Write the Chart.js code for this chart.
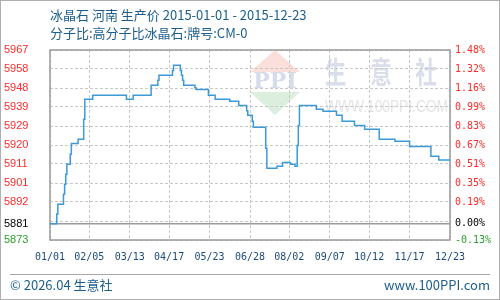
<!DOCTYPE html>
<html lang="zh">
<head>
    <meta charset="UTF-8">
    <title>冰晶石 河南 生产价</title>
    <script src="https://cdn.jsdelivr.net/npm/chart.js"></script>
    <style>
        body {
            margin: 0;
            background: #fff;
        }
        #wrap {
            position: relative;
            width: 500px;
            height: 300px;
            overflow: hidden;
        }
        #frame {
            position: absolute;
            left: 0; top: 0;
            width: 498px; height: 298px;
            border: 1px solid #b0b0b0;
            pointer-events: none;
        }
        .txt {
            position: absolute;
            font-family: "Noto Sans CJK SC", "Noto Sans", sans-serif;
            font-size: 13px;
            color: #1b5e8e;
            white-space: nowrap;
            line-height: 16px;
        }
        #footLine {
            position: absolute;
            left: 10px; top: 274px;
            width: 480px; height: 0;
            border-top: 1px solid #a8a8a8;
        }
    </style>
</head>
<body>
<div id="wrap">
    <canvas id="priceChart" width="500" height="300"></canvas>
    <div class="txt" style="left:50px; top:7px;">冰晶石 河南 生产价 2015-01-01 - 2015-12-23</div>
    <div class="txt" style="left:50px; top:25px;">分子比:高分子比冰晶石:牌号:CM-0</div>
    <div id="footLine"></div>
    <div class="txt" style="left:10px; top:277px;">© 2026.04 生意社</div>
    <div class="txt" style="right:10px; top:277px;">www.100PPI.com</div>
    <div id="frame"></div>
</div>

<script>
    // price changes (date the new price starts, price)
    const changeDates = ['01-01', '01-07', '01-08', '01-13', '01-14', '01-15', '01-16', '01-19', '01-20', '01-26',
        '01-31', '02-01', '02-08', '03-10', '03-16', '04-01', '04-07', '04-08', '04-20', '04-21',
        '04-27', '04-28', '04-29', '04-30', '05-10', '05-11', '05-22', '05-28', '06-10', '06-18',
        '06-25', '06-26', '06-30', '07-01', '07-12', '07-13', '07-22', '07-27', '08-03', '08-07',
        '08-09', '08-10', '08-11', '08-26', '09-01', '09-13', '09-18', '09-29', '10-08', '10-21',
        '11-04', '11-17', '12-06', '12-13', '12-23'];
    const prices = [5881, 5885.9, 5890.7, 5895.6, 5900.6, 5905.5, 5910.5, 5915.4, 5920.8, 5922.8,
        5932.7, 5942.6, 5944.6, 5942.6, 5944.6, 5949.5, 5952, 5954.5, 5956.9, 5959.4,
        5956.9, 5954.5, 5952, 5949.5, 5948.3, 5947.5, 5944.6, 5942.6, 5941.6, 5939.6,
        5937, 5934.7, 5931.7, 5928.8, 5918.4, 5908.5, 5909.5, 5911.4, 5910.5, 5909.5,
        5919.8, 5929.7, 5939.6, 5937.7, 5936.7, 5934.7, 5931.7, 5929.7, 5927.8, 5922.8,
        5921.8, 5919.3, 5914.4, 5912.6, 5912.6];

    const xTickLabels = ['01/01', '02/05', '03/13', '04/17', '05/23', '06/28', '08/02', '09/07', '10/12', '11/17', '12/23'];

    const yTickValues = [5967, 5957.6, 5948.2, 5938.8, 5929.4, 5920, 5910.6, 5901.2, 5891.8, 5882.4, 5881, 5873];
    const yTickLabels = ['5967', '5958', '5948', '5939', '5929', '5920', '5911', '5901', '5892', '', '5881', '5873'];
    const pctTickLabels = ['1.48%', '1.32%', '1.16%', '0.99%', '0.83%', '0.67%', '0.51%', '0.35%', '0.19%', '', '0.00%', '-0.13%'];

    const basePrice = 5881;
    const yMin = 5873, yMax = 5967;

    const YEAR = '2015-';
    const day0 = Date.parse(YEAR + '01-01');
    function dayOf(md) {
        return Math.round((Date.parse(YEAR + md.replace('/', '-')) - day0) / 86400000);
    }
    const xTickDays = xTickLabels.map(dayOf);
    const points = changeDates.map((d, i) => ({ x: dayOf(d), y: prices[i] }));

    function tickColor(ctx) {
        const v = ctx.tick ? ctx.tick.value : 0;
        if (v === basePrice) return '#000000';
        if (v < basePrice) return '#2ca02c';
        return '#ff2a2a';
    }

    const decor = {
        id: 'decor',
        beforeDraw(chart) {
            const c = chart.ctx;
            c.save();
            // watermark logo
            c.fillStyle = '#fbdfdb';
            c.beginPath(); c.moveTo(250, 72); c.lineTo(300, 72); c.lineTo(275, 50); c.closePath(); c.fill();
            c.fillStyle = '#dcefdf';
            c.beginPath(); c.moveTo(250, 92); c.lineTo(300, 92); c.lineTo(275, 115); c.closePath(); c.fill();
            c.fillStyle = '#d6dce9';
            c.font = 'bold 22px "DejaVu Serif", serif';
            c.textAlign = 'center';
            c.textBaseline = 'middle';
            c.fillText('PPI', 275, 82);
            // watermark words
            c.fillStyle = '#dadeea';
            c.font = 'bold 30px "Noto Sans CJK SC", sans-serif';
            const chars = ['生', '意', '社'];
            const cx = [335.5, 381, 426];
            chars.forEach((ch, i) => {
                c.save();
                c.translate(cx[i], 72);
                c.scale(0.72, 1);
                c.fillText(ch, 0, 0);
                c.restore();
            });
            c.fillStyle = '#e4e4e4';
            c.font = '17px "Liberation Sans", sans-serif';
            const w = c.measureText('WWW.100PPI.COM').width;
            c.save();
            c.translate(386.5, 107);
            c.scale(123 / w, 1);
            c.fillText('WWW.100PPI.COM', 0, 0);
            c.restore();
            c.restore();
        },
        beforeDatasetsDraw(chart) {
            const c = chart.ctx;
            const a = chart.chartArea;
            const yb = chart.scales.y.getPixelForValue(basePrice);
            c.save();
            c.strokeStyle = '#9a9a9a';
            c.lineWidth = 1.5;
            c.beginPath();
            c.moveTo(a.left, yb); c.lineTo(a.right, yb);
            c.stroke();
            c.strokeRect(a.left, a.top, a.right - a.left, a.bottom - a.top);
            c.restore();
        }
    };

    new Chart(document.getElementById('priceChart').getContext('2d'), {
        type: 'line',
        data: {
            datasets: [{
                data: points,
                stepped: 'before',
                borderColor: '#3d9ad8',
                borderWidth: 1.5,
                pointRadius: 0,
                fill: false
            }]
        },
        options: {
            responsive: false,
            animation: false,
            layout: { padding: { top: 50, left: 4, right: 0, bottom: 0 } },
            plugins: {
                legend: { display: false },
                tooltip: { enabled: false }
            },
            scales: {
                x: {
                    type: 'linear',
                    min: 0,
                    max: xTickDays[xTickDays.length - 1],
                    afterBuildTicks: s => { s.ticks = xTickDays.map(v => ({ value: v })); },
                    afterFit: s => { s.height = 60; },
                    ticks: {
                        autoSkip: false,
                        maxRotation: 0,
                        padding: 11,
                        color: '#1a4a80',
                        font: { family: 'DejaVu Sans Mono', size: 10 },
                        callback: (v, i) => xTickLabels[i]
                    },
                    grid: { color: '#c8c8c8', drawTicks: false },
                    border: { display: false, dash: [3, 2] }
                },
                y: {
                    position: 'left',
                    min: yMin,
                    max: yMax,
                    afterBuildTicks: s => { s.ticks = yTickValues.map(v => ({ value: v })); },
                    afterFit: s => { s.width = 46; },
                    ticks: {
                        autoSkip: false,
                        crossAlign: 'far',
                        color: tickColor,
                        font: { family: 'Liberation Sans', size: 11 },
                        callback: (v, i) => yTickLabels[i]
                    },
                    grid: {
                        color: ctx => (ctx.tick && ctx.tick.value === basePrice) ? 'rgba(0,0,0,0)' : '#c8c8c8',
                        drawTicks: false
                    },
                    border: { display: false, dash: [3, 2] }
                },
                y2: {
                    position: 'right',
                    min: yMin,
                    max: yMax,
                    afterBuildTicks: s => { s.ticks = yTickValues.map(v => ({ value: v })); },
                    afterFit: s => { s.width = 50; },
                    ticks: {
                        autoSkip: false,
                        padding: 5,
                        color: tickColor,
                        font: { family: 'DejaVu Sans Mono', size: 10 },
                        callback: (v, i) => pctTickLabels[i]
                    },
                    grid: { display: false, drawTicks: false },
                    border: { display: false }
                }
            }
        },
        plugins: [decor]
    });
</script>
</body>
</html>
